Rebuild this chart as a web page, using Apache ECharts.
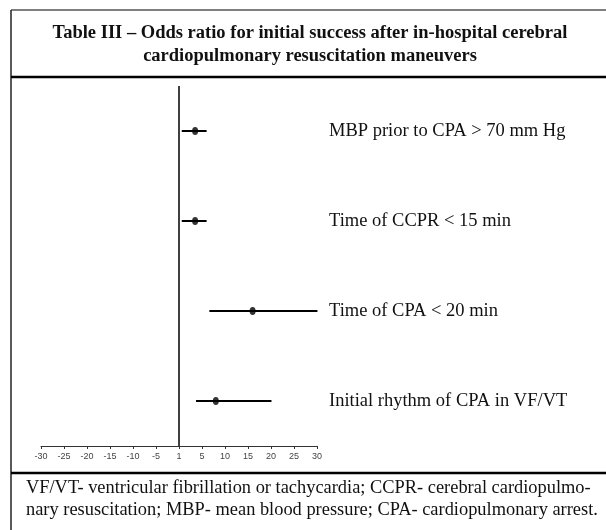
<!DOCTYPE html>
<html>
<head>
<meta charset="utf-8">
<script src="https://cdn.jsdelivr.net/npm/echarts@6/dist/echarts.min.js"></script>
<style>html,body{margin:0;padding:0;background:#fff;}#c{width:606px;height:530px;}</style>
</head>
<body>
<div id="c"></div>
<script>
var categories = ['MBP prior to CPA > 70 mm Hg', 'Time of CCPR < 15 min', 'Time of CPA < 20 min', 'Initial rhythm of CPA in VF/VT'];
var pointValues = [3.5, 3.5, 16.0, 8.0];
var lowerValues = [0.6, 0.6, 6.6, 3.7];
var upperValues = [6.0, 6.0, 30.1, 20.1];
var tickValues = [-30, -25, -20, -15, -10, -5, 0, 5, 10, 15, 20, 25, 30];
var tickLabels = ['-30', '-25', '-20', '-15', '-10', '-5', '1', '5', '10', '15', '20', '25', '30'];
var titleLines = ['Table III \u2013 Odds ratio for initial success after in-hospital cerebral', 'cardiopulmonary resuscitation maneuvers'];
var footLines = ['VF/VT- ventricular fibrillation or tachycardia; CCPR- cerebral cardiopulmo-', 'nary resuscitation; MBP- mean blood pressure; CPA- cardiopulmonary arrest.'];

var chart = echarts.init(document.getElementById('c'), null, {renderer: 'canvas'});
var serif = '"Liberation Serif", "DejaVu Serif", serif';

var ciData = categories.map(function (c, i) { return [lowerValues[i], upperValues[i], i]; });
var ptData = categories.map(function (c, i) { return [pointValues[i], c]; });

var option = {
  animation: false,
  backgroundColor: '#fff',
  title: [
    {text: titleLines[0], left: 305, top: 19, textAlign: 'center',
     textStyle: {fontFamily: serif, fontSize: 18.5, fontWeight: 'bold', color: '#111'}},
    {text: titleLines[1], left: 305, top: 42, textAlign: 'center',
     textStyle: {fontFamily: serif, fontSize: 18.5, fontWeight: 'bold', color: '#111'}},
    {text: footLines[0], left: 21, top: 474,
     textStyle: {fontFamily: serif, fontSize: 18.4, fontWeight: 'normal', color: '#111'}},
    {text: footLines[1], left: 21, top: 496,
     textStyle: {fontFamily: serif, fontSize: 18.4, fontWeight: 'normal', color: '#111'}}
  ],
  grid: {left: 41, right: 289, top: 86, bottom: 84, containLabel: false},
  xAxis: {
    type: 'value', min: -30, max: 30, interval: 5,
    axisLine: {show: true, onZero: false, lineStyle: {color: '#333', width: 1}},
    axisTick: {show: true, length: 3, lineStyle: {color: '#333'}},
    axisLabel: {
      margin: 6, fontFamily: '"Liberation Sans", Arial, sans-serif', fontSize: 9, color: '#444',
      formatter: function (v) { var k = tickValues.indexOf(v); return k >= 0 ? tickLabels[k] : ''; }
    },
    splitLine: {show: false}
  },
  yAxis: {
    type: 'category', data: categories, inverse: true, position: 'right',
    axisLine: {show: false}, axisTick: {show: false}, splitLine: {show: false},
    axisLabel: {margin: 12, align: 'left', fontFamily: serif, fontSize: 18.5, color: '#111'}
  },
  graphic: [
    {type: 'line', shape: {x1: 11, y1: 10, x2: 606, y2: 10}, style: {stroke: '#555', lineWidth: 1.5}},
    {type: 'line', shape: {x1: 11, y1: 10, x2: 11, y2: 530}, style: {stroke: '#222', lineWidth: 1.5}},
    {type: 'line', shape: {x1: 11, y1: 77, x2: 606, y2: 77}, style: {stroke: '#000', lineWidth: 2.5}},
    {type: 'line', shape: {x1: 11, y1: 473, x2: 606, y2: 473}, style: {stroke: '#000', lineWidth: 2.5}}
  ],
  series: [
    {
      type: 'custom',
      data: ciData,
      dimensions: ['lo', 'hi', 'row'],
      encode: {x: ['lo', 'hi'], y: 'row'},
      renderItem: function (params, api) {
        var p1 = api.coord([api.value(0), api.value(2)]);
        var p2 = api.coord([api.value(1), api.value(2)]);
        return {type: 'line', shape: {x1: p1[0], y1: p1[1], x2: p2[0], y2: p2[1]},
                style: {stroke: '#000', lineWidth: 2}};
      },
      z: 2
    },
    {
      type: 'scatter', data: ptData, symbol: 'circle', symbolSize: [6, 8],
      itemStyle: {color: '#000'}, z: 3,
      markLine: {
        silent: true, symbol: ['none', 'none'], label: {show: false},
        lineStyle: {color: '#000', type: 'solid', width: 1.5},
        data: [{xAxis: 0}]
      }
    }
  ]
};
chart.setOption(option);
</script>
</body>
</html>
